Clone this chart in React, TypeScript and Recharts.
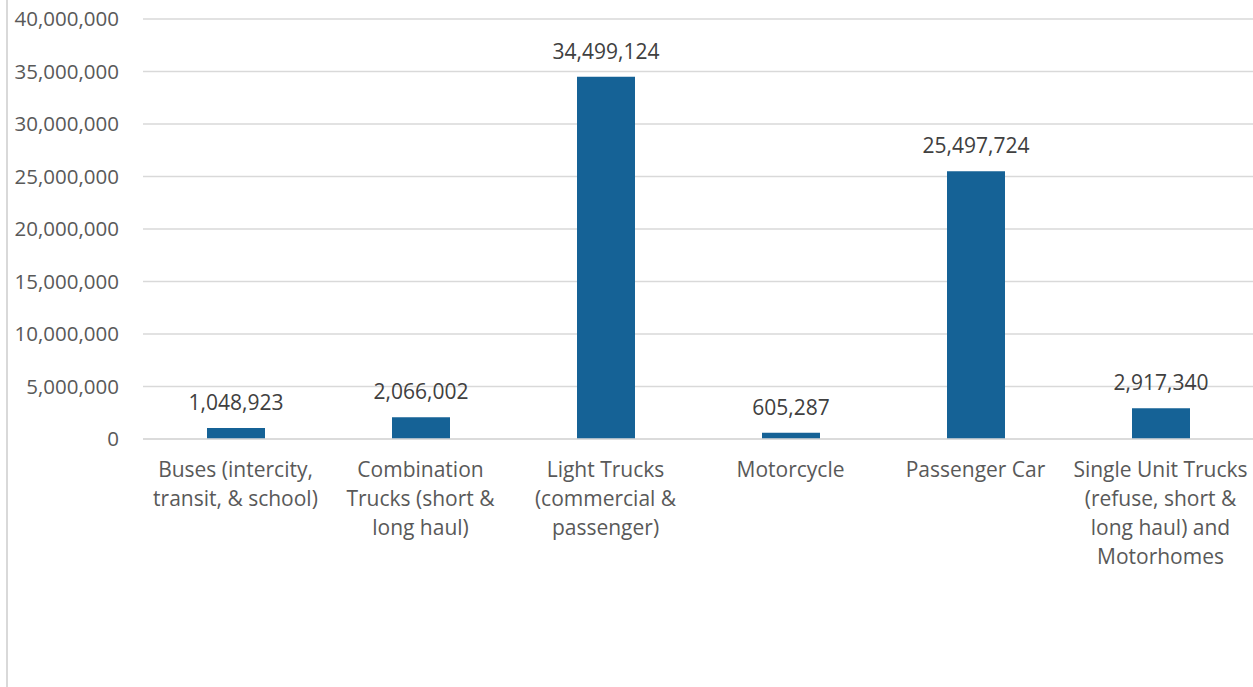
import { BarChart, Bar, XAxis, YAxis, CartesianGrid, LabelList } from 'recharts';

// vehicle categories (line breaks as in the reference axis)
const categories = [
  'Buses (intercity,\ntransit, & school)',
  'Combination\nTrucks (short &\nlong haul)',
  'Light Trucks\n(commercial &\npassenger)',
  'Motorcycle',
  'Passenger Car',
  'Single Unit Trucks\n(refuse, short &\nlong haul) and\nMotorhomes',
];
const vehicles = [1048923, 2066002, 34499124, 605287, 25497724, 2917340];
const yTicks = [0, 5000000, 10000000, 15000000, 20000000, 25000000, 30000000, 35000000, 40000000];

const data = categories.map((name, i) => ({ name, value: vehicles[i] }));

const FONT = '"Open Sans", sans-serif';
const fmt = (v: number) => v.toLocaleString('en-US');

const CategoryTick = ({ x, y, payload }: any) => {
  const lines = String(payload.value).split('\n');
  return (
    <text x={x} y={y} textAnchor="middle" fill="#595959" fontSize={21} fontFamily={FONT}>
      {lines.map((line, i) => (
        <tspan key={i} x={x} dy={i === 0 ? 30 : 29}>
          {line}
        </tspan>
      ))}
    </text>
  );
};

export default function App() {
  return (
    <div style={{ position: 'absolute', left: 0, top: 0, width: 1253, height: 687, background: '#fff' }}>
      <div style={{ position: 'absolute', left: 6, top: 0, width: 2, height: 687, background: '#d9d9d9' }} />
      <BarChart
        width={1253}
        height={687}
        data={data}
        margin={{ top: 19, right: 0, left: 0, bottom: 0 }}
      >
        <CartesianGrid vertical={false} stroke="#d9d9d9" strokeWidth={1.5} />
        <XAxis
          dataKey="name"
          interval={0}
          height={248}
          axisLine={{ stroke: '#d9d9d9', strokeWidth: 1.5 }}
          tickLine={false}
          tick={<CategoryTick />}
        />
        <YAxis
          width={143}
          domain={[0, 40000000]}
          ticks={yTicks}
          interval={0}
          axisLine={false}
          tickLine={false}
          tickMargin={18}
          tickFormatter={fmt}
          tick={{ fill: '#595959', fontSize: 20.5, fontFamily: FONT }}
        />
        <Bar dataKey="value" fill="#156296" barSize={58} isAnimationActive={false}>
          <LabelList
            dataKey="value"
            position="top"
            offset={18}
            formatter={(v: any) => fmt(Number(v))}
            style={{ fill: '#404040', fontSize: 21, fontFamily: FONT }}
          />
        </Bar>
      </BarChart>
    </div>
  );
}
